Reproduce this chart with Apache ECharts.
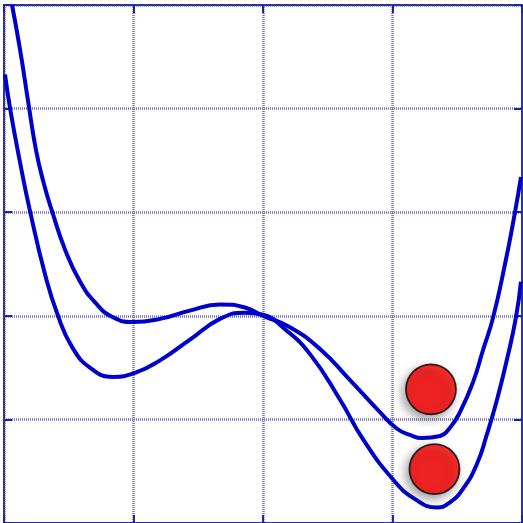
<!DOCTYPE html>
<html>
<head>
<meta charset="utf-8">
<script src="https://cdn.jsdelivr.net/npm/echarts@6/dist/echarts.min.js"></script>
<style>
  html, body { margin: 0; padding: 0; background: #ffffff; }
  #chart { width: 523px; height: 523px; }
</style>
</head>
<body>
<div id="chart"></div>
<script>
// Upper potential curve: [x, energy]
const upperCurveX = [0.062, 0.124, 0.185, 0.247, 0.309, 0.371, 0.471, 0.587, 0.703, 0.834,
  0.996, 1.205, 1.436, 1.668, 1.861, 2.000, 2.208, 2.440, 2.672, 2.903,
  3.035, 3.135, 3.228, 3.367, 3.444, 3.521, 3.622, 3.699, 3.776, 3.869,
  3.946, 3.992];
const upperCurveY = [5.00, 4.57, 4.08, 3.60, 3.27, 3.01, 2.64, 2.33, 2.13, 1.99,
  1.94, 1.97, 2.05, 2.11, 2.08, 2.00, 1.89, 1.68, 1.38, 1.07,
  0.91, 0.85, 0.82, 0.84, 0.92, 1.07, 1.36, 1.67, 1.98, 2.50,
  3.00, 3.34];

// Lower potential curve: [x, energy]
const lowerCurveX = [0.008, 0.046, 0.124, 0.201, 0.317, 0.417, 0.525, 0.664, 0.842, 1.012,
  1.205, 1.436, 1.668, 1.861, 2.000, 2.170, 2.363, 2.595, 2.772, 3.004,
  3.174, 3.344, 3.444, 3.544, 3.652, 3.730, 3.807, 3.884, 3.954, 3.992];
const lowerCurveY = [4.33, 4.01, 3.48, 3.01, 2.40, 2.00, 1.70, 1.50, 1.41, 1.45,
  1.57, 1.77, 1.97, 2.03, 2.01, 1.87, 1.63, 1.19, 0.81, 0.42,
  0.23, 0.15, 0.20, 0.33, 0.57, 0.86, 1.19, 1.58, 1.99, 2.33];

// Balls resting in the right-hand wells
const ballX = [3.297, 3.324];
const ballY = [1.29, 0.52];

// Axis ranges and grid steps
const xRange = [0, 4];
const yRange = [0, 5];
const xStep = 1;
const yStep = 1;

const zip = (xs, ys) => xs.map((x, i) => [x, ys[i]]);

const frameColor = '#3030a8';
const gridLineStyle = { color: '#7474bc', width: 2.5, type: [1, 1] };
const tickStyle = { show: true, inside: true, length: 8, lineStyle: { color: '#22229c', width: 2 } };

function makeAxis(range, step, position, withSplit) {
  return {
    type: 'value',
    position: position,
    min: range[0],
    max: range[1],
    interval: step,
    axisLine: { show: true, onZero: false, lineStyle: { color: frameColor, width: 2 } },
    axisTick: tickStyle,
    axisLabel: { show: false },
    splitLine: { show: withSplit, lineStyle: gridLineStyle }
  };
}

function curveSeries(xs, ys) {
  return {
    type: 'line',
    data: zip(xs, ys),
    smooth: 0.5,
    showSymbol: false,
    clip: true,
    lineStyle: { color: '#0000cc', width: 4 },
    z: 3
  };
}

const chart = echarts.init(document.getElementById('chart'), null, { renderer: 'canvas' });
chart.setOption({
  animation: false,
  backgroundColor: '#ffffff',
  grid: { left: 4, top: 5, width: 518, height: 519, containLabel: false },
  xAxis: [makeAxis(xRange, xStep, 'bottom', true), makeAxis(xRange, xStep, 'top', false)],
  yAxis: [makeAxis(yRange, yStep, 'left', true), makeAxis(yRange, yStep, 'right', false)],
  series: [
    curveSeries(upperCurveX, upperCurveY),
    curveSeries(lowerCurveX, lowerCurveY),
    {
      type: 'scatter',
      data: zip(ballX, ballY),
      symbol: 'circle',
      symbolSize: 50,
      itemStyle: {
        color: '#ff0000',
        borderColor: '#000000',
        borderWidth: 1.8,
        shadowBlur: 10,
        shadowColor: 'rgba(0,0,0,0.45)',
        shadowOffsetX: -3,
        shadowOffsetY: 4
      },
      z: 5
    }
  ]
});
</script>
</body>
</html>
